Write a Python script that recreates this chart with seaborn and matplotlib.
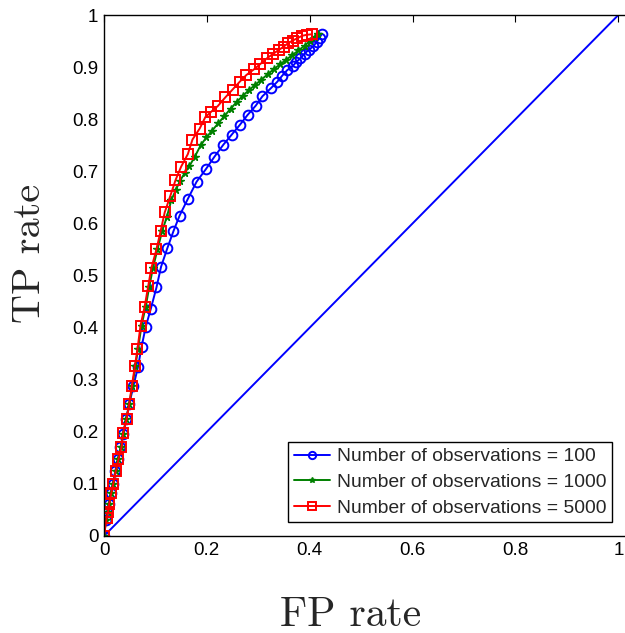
import matplotlib
matplotlib.use("Agg")
import matplotlib.pyplot as plt
import seaborn as sns
import pandas as pd

# ---- data ----
fpr_100 = [0.000, 0.003, 0.006, 0.009, 0.013, 0.017, 0.022, 0.027, 0.032, 0.037,
           0.043, 0.049, 0.057, 0.066, 0.073, 0.081, 0.091, 0.102, 0.111, 0.123,
           0.135, 0.147, 0.163, 0.180, 0.198, 0.214, 0.232, 0.248, 0.264, 0.279,
           0.295, 0.308, 0.324, 0.337, 0.346, 0.356, 0.367, 0.374, 0.382, 0.390,
           0.398, 0.407, 0.414, 0.419, 0.423]
tpr_100 = [0.000, 0.030, 0.047, 0.061, 0.082, 0.100, 0.125, 0.147, 0.170, 0.195,
           0.224, 0.253, 0.287, 0.324, 0.363, 0.401, 0.436, 0.477, 0.517, 0.552,
           0.585, 0.615, 0.647, 0.680, 0.704, 0.727, 0.751, 0.770, 0.789, 0.808,
           0.826, 0.844, 0.859, 0.872, 0.883, 0.894, 0.902, 0.910, 0.917, 0.926,
           0.933, 0.940, 0.949, 0.956, 0.963]

fpr_1000 = [0.000, 0.004, 0.007, 0.010, 0.014, 0.018, 0.023, 0.028, 0.033, 0.037,
            0.043, 0.049, 0.055, 0.061, 0.066, 0.073, 0.081, 0.088, 0.095, 0.104,
            0.113, 0.122, 0.131, 0.140, 0.148, 0.157, 0.166, 0.176, 0.188, 0.199,
            0.210, 0.222, 0.234, 0.246, 0.258, 0.270, 0.282, 0.294, 0.306, 0.318,
            0.330, 0.342, 0.354, 0.366, 0.378, 0.390, 0.400, 0.410, 0.417]
tpr_1000 = [0.000, 0.030, 0.047, 0.061, 0.082, 0.100, 0.125, 0.147, 0.170, 0.195,
            0.224, 0.253, 0.287, 0.326, 0.358, 0.404, 0.440, 0.478, 0.514, 0.550,
            0.585, 0.612, 0.645, 0.665, 0.682, 0.697, 0.710, 0.727, 0.750, 0.765,
            0.778, 0.792, 0.806, 0.820, 0.833, 0.845, 0.856, 0.866, 0.876, 0.886,
            0.896, 0.905, 0.914, 0.923, 0.932, 0.941, 0.950, 0.957, 0.963]

fpr_5000 = [0.000, 0.005, 0.008, 0.010, 0.014, 0.018, 0.023, 0.028, 0.034, 0.037,
            0.044, 0.049, 0.054, 0.060, 0.065, 0.071, 0.079, 0.086, 0.092, 0.102,
            0.110, 0.118, 0.129, 0.139, 0.150, 0.163, 0.172, 0.186, 0.197, 0.208,
            0.221, 0.236, 0.250, 0.264, 0.277, 0.292, 0.304, 0.317, 0.328, 0.340,
            0.349, 0.358, 0.367, 0.375, 0.385, 0.394, 0.404]
tpr_5000 = [0.000, 0.034, 0.047, 0.061, 0.082, 0.100, 0.125, 0.147, 0.170, 0.197,
            0.224, 0.253, 0.287, 0.326, 0.358, 0.404, 0.440, 0.480, 0.514, 0.550,
            0.585, 0.621, 0.653, 0.683, 0.709, 0.733, 0.761, 0.782, 0.804, 0.814,
            0.825, 0.842, 0.857, 0.872, 0.885, 0.896, 0.906, 0.917, 0.925, 0.933,
            0.939, 0.946, 0.951, 0.955, 0.960, 0.962, 0.963]

diag = [0.0, 1.0]

labels = ["Number of observations = 100",
          "Number of observations = 1000",
          "Number of observations = 5000"]
xticks = [0, 0.2, 0.4, 0.6, 0.8, 1]
xticklabels = ["0", "0.2", "0.4", "0.6", "0.8", "1"]
yticks = [0, 0.1, 0.2, 0.3, 0.4, 0.5, 0.6, 0.7, 0.8, 0.9, 1]
yticklabels = ["0", "0.1", "0.2", "0.3", "0.4", "0.5", "0.6", "0.7", "0.8", "0.9", "1"]

# ---- plot ----
sns.set_style("white")
plt.rcParams["font.family"] = ["Liberation Sans", "DejaVu Sans"]

fig = plt.figure(figsize=(6.25, 6.33), dpi=100)
ax = fig.add_axes([104 / 625, 97 / 633, 519.5 / 625, 521 / 633])

BLUE, GREEN, RED = "#0000ff", "#008000", "#ff0000"

sns.lineplot(x=diag, y=diag, ax=ax, color=BLUE, lw=1.4, legend=False)
sns.lineplot(x=fpr_100, y=tpr_100, ax=ax, sort=False, estimator=None, color=BLUE,
             lw=1.4, marker="o", markersize=7, markerfacecolor="none",
             markeredgecolor=BLUE, markeredgewidth=1.4, label=labels[0])
sns.lineplot(x=fpr_1000, y=tpr_1000, ax=ax, sort=False, estimator=None, color=GREEN,
             lw=1.4, marker="*", markersize=5.5, markerfacecolor=GREEN,
             markeredgecolor=GREEN, markeredgewidth=1.0, label=labels[1])
sns.lineplot(x=fpr_5000, y=tpr_5000, ax=ax, sort=False, estimator=None, color=RED,
             lw=1.4, marker="s", markersize=7, markerfacecolor="none",
             markeredgecolor=RED, markeredgewidth=1.4, label=labels[2])

ax.set_xlim(0, 1.01)
ax.set_ylim(0, 1)
ax.set_xticks(xticks)
ax.set_xticklabels(xticklabels)
ax.set_yticks(yticks)
ax.set_yticklabels(yticklabels)
ax.tick_params(direction="in", length=5, width=0.8, labelsize=13.5, colors="black",
               top=True, right=False, pad=4)
for s in ["left", "bottom", "top"]:
    ax.spines[s].set_color("black")
    ax.spines[s].set_linewidth(1.0)
ax.spines["right"].set_visible(False)

ax.set_xlabel("FP rate", fontfamily="cmr10", fontsize=30)
ax.set_ylabel("TP rate", fontfamily="cmr10", fontsize=29)
ax.xaxis.set_label_coords(0.475, -0.117)
ax.yaxis.set_label_coords(-0.108, 0.543)

leg = ax.legend(loc="lower right", bbox_to_anchor=(0.978, 0.027), borderaxespad=0,
                fontsize=13.9, frameon=True, fancybox=False, edgecolor="black",
                handlelength=1.9, handletextpad=0.35, labelspacing=0.42,
                borderpad=0.28, markerscale=0.75)
leg.get_frame().set_linewidth(1.0)
leg.get_frame().set_alpha(1)

fig.savefig("out.png", dpi=100)
